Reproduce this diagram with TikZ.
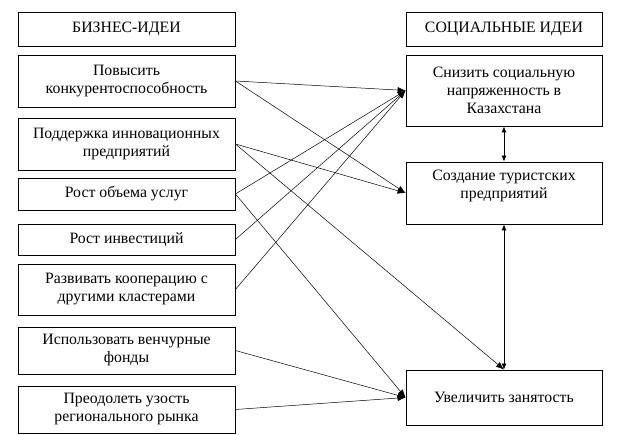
\documentclass[tikz,border=0pt]{standalone}
\usepackage{fontspec}
\setmainfont{Liberation Serif}
\usetikzlibrary{arrows.meta}
\tikzset{
  box/.style={draw, line width=0.8pt, rectangle, align=center, inner sep=2pt,
    font=\fontsize{15.8}{18}\selectfont},
  lbox/.style={box, minimum width=217pt},
  rbox/.style={box, minimum width=196pt},
  link/.style={line width=0.5pt, -{Latex[length=8pt,width=6pt]}},
  both/.style={line width=0.8pt, {Latex[length=6pt,width=5pt]}-{Latex[length=6pt,width=5pt]}}
}
\begin{document}
\begin{tikzpicture}[x=1pt,y=-1pt]
      \useasboundingbox (0,0) rectangle (625,435);
      \node[lbox, minimum height=34pt] (biz) at (126.5,29) {БИЗНЕС-ИДЕИ};
      \node[lbox, minimum height=52pt] (b1) at (126.5,81) {Повысить\\конкурентоспособность};
      \node[lbox, minimum height=52pt] (b2) at (126.5,144) {Поддержка инновационных\\предприятий};
      \node[lbox, minimum height=32pt] (b3) at (126.5,194) {Рост объема услуг};
      \node[lbox, minimum height=31pt] (b4) at (126.5,239.5) {Рост инвестиций};
      \node[lbox, minimum height=51pt] (b5) at (126.5,289.5) {Развивать кооперацию с\\другими кластерами};
      \node[lbox, minimum height=47pt] (b6) at (126.5,350.5) {Использовать венчурные\\фонды};
      \node[lbox, minimum height=47pt] (b7) at (126.5,409.5) {Преодолеть узость\\регионального рынка};
      \node[rbox, minimum height=34pt] (soc) at (504,29) {СОЦИАЛЬНЫЕ ИДЕИ};
      \node[rbox, minimum height=71pt] (r1) at (504,90.5) {Снизить социальную\\напряженность в\\Казахстана};
      \node[rbox, minimum height=62pt] (r2) at (504,193) {Создание туристских\\предприятий\\\mbox{}};
      \node[rbox, minimum height=55pt] (r3) at (504,397.5) {Увеличить занятость};
      \begin{scope}[link]
        \draw (b1.east) to (r1.west);
        \draw (b1.east) to (r2.west);
        \draw (b2.east) to (r2.west);
        \draw (b2.east) to (r3.north);
        \draw (b3.east) to (r1.west);
        \draw (b3.east) to (r3.west);
        \draw (b4.east) to (r1.west);
        \draw (b5.east) to (r1.west);
        \draw (b6.east) to (r3.west);
        \draw (b7.east) to (r3.west);
      \end{scope}
      \begin{scope}[both]
        \draw (r1.south) to (r2.north);
        \draw (r2.south) to (r3.north);
      \end{scope}
    \end{tikzpicture}
\end{document}
